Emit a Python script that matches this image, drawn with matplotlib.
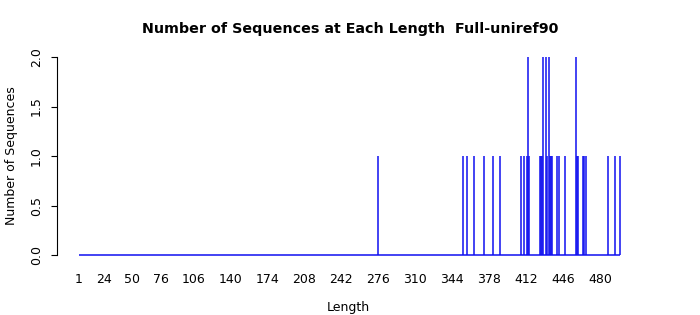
import numpy as np
import matplotlib
matplotlib.use('Agg')
import matplotlib.pyplot as plt

# sequence lengths that occur, and how many sequences have each length
lengths = [276, 354, 358, 364, 373, 382, 388, 407, 410, 413, 414, 415,
           425, 426, 427, 428, 430, 431, 433, 434, 435, 436, 440, 442,
           448, 458, 459, 460, 464, 465, 467, 487, 494, 498]
counts = [1, 1, 1, 1, 1, 1, 1, 1, 1, 1, 2, 1,
          1, 1, 1, 2, 2, 1, 2, 1, 1, 1, 1, 1,
          1, 2, 1, 1, 1, 1, 1, 1, 1, 1]
min_len = 1
xtick_labels = [1, 24, 50, 76, 106, 140, 174, 208, 242, 276, 310, 344, 378, 412, 446, 480]
yticks = [0.0, 0.5, 1.0, 1.5, 2.0]

plt.rcParams['font.family'] = 'DejaVu Sans'

fig = plt.figure(figsize=(7, 3.15), dpi=100)
ax = fig.add_axes([57 / 700, 60 / 315, (640 - 57) / 700, 198 / 315])

px_per_unit = 1.0877
x_left = min_len - (79 - 57) / px_per_unit
x_right = min_len + (640 - 79) / px_per_unit
ax.set_xlim(x_left, x_right)
ax.set_ylim(0, 2)

ax.hlines(0, min_len, max(lengths), color='#1010f0', lw=1.1, clip_on=False)
ax.vlines(lengths, 0, counts, color='#1010f0', lw=1.1, clip_on=False)

for s in ['top', 'right', 'bottom']:
    ax.spines[s].set_visible(False)
ax.spines['left'].set_linewidth(0.8)

ax.set_xticks(xtick_labels)
ax.set_xticklabels([str(v) for v in xtick_labels], fontsize=9)
ax.tick_params(axis='x', length=0, pad=13)
ax.set_yticks(yticks)
ax.set_yticklabels([f'{v:.1f}' for v in yticks], fontsize=9, rotation=90, va='center')
ax.tick_params(axis='y', length=4, width=0.8, pad=6)

ax.set_xlabel('Length', fontsize=9, labelpad=11)
ax.set_ylabel('Number of Sequences', fontsize=9, labelpad=9)
fig.text(350 / 700, 1 - 29 / 315, 'Number of Sequences at Each Length  Full-uniref90',
         ha='center', va='center', fontsize=10.3, fontweight='bold')

fig.savefig('out.png', dpi=100)
